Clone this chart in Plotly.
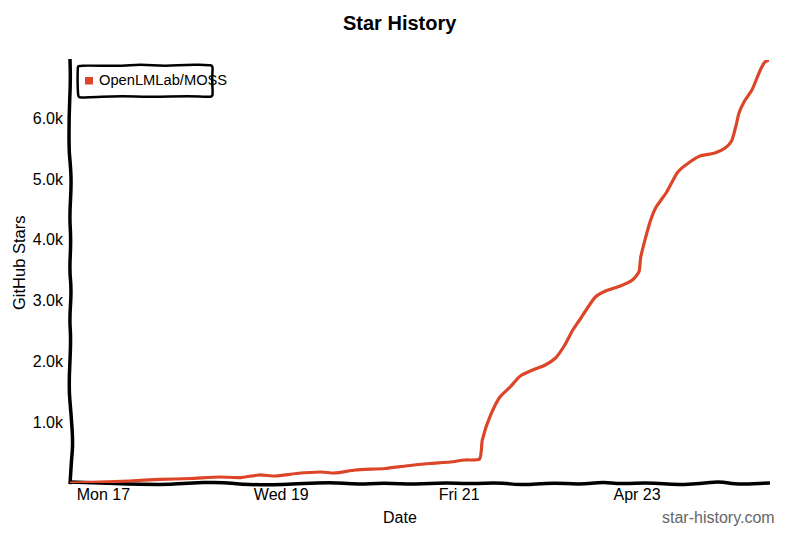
import plotly.graph_objects as go

W, H = 800, 533
LEFT, RIGHT, TOP, BOTTOM = 70, 769, 60, 483
RED = "#dd4528"

dates = [
    "2023-04-16 15:00", "2023-04-16 23:00", "2023-04-17 07:00", "2023-04-17 15:00",
    "2023-04-17 23:30", "2023-04-18 07:30", "2023-04-18 13:00", "2023-04-18 18:00",
    "2023-04-18 22:30", "2023-04-19 04:00", "2023-04-19 10:30", "2023-04-19 14:30",
    "2023-04-19 20:00", "2023-04-20 04:00", "2023-04-20 09:30", "2023-04-20 16:00",
    "2023-04-20 21:30", "2023-04-21 01:30", "2023-04-21 05:30", "2023-04-21 06:15",
    "2023-04-21 08:30", "2023-04-21 11:00", "2023-04-21 13:45", "2023-04-21 16:30",
    "2023-04-21 20:30", "2023-04-21 23:15", "2023-04-22 02:00", "2023-04-22 04:30",
    "2023-04-22 06:30", "2023-04-22 08:30", "2023-04-22 12:45", "2023-04-22 15:30",
    "2023-04-22 19:30", "2023-04-22 22:45", "2023-04-23 00:30", "2023-04-23 01:00",
    "2023-04-23 03:30", "2023-04-23 05:00", "2023-04-23 08:00", "2023-04-23 11:00",
    "2023-04-23 14:15", "2023-04-23 17:00", "2023-04-23 21:00", "2023-04-23 23:45",
    "2023-04-24 01:30", "2023-04-24 02:45", "2023-04-24 03:30", "2023-04-24 05:00",
    "2023-04-24 07:00", "2023-04-24 09:15", "2023-04-24 10:30", "2023-04-24 11:36",
]
stars = [
    0, 16, 33, 58, 74, 99, 90, 132, 115, 156, 181, 165, 214, 238, 280, 321, 345, 378,
    395, 711, 1119, 1415, 1579, 1760, 1875, 1941, 2056, 2270, 2500, 2681, 3060, 3158,
    3240, 3339, 3471, 3718, 4293, 4523, 4787, 5116, 5280, 5379, 5428, 5511, 5626, 5889,
    6086, 6284, 6465, 6794, 6925, 6958,
]

x_tick_vals = ["2023-04-17", "2023-04-19", "2023-04-21", "2023-04-23"]
x_tick_text = ["Mon 17", "Wed 19", "Fri 21", "Apr 23"]
y_tick_vals = [1000, 2000, 3000, 4000, 5000, 6000]
y_tick_text = ["1.0k", "2.0k", "3.0k", "4.0k", "5.0k", "6.0k"]

# hand drawn outlines, in pixels of the page
y_axis_line = [(70, 59), (70.5, 83), (69, 117), (69, 150), (70, 160), (71.5, 183), (69.5, 217),
               (71, 240), (69.5, 270), (71.5, 290), (69.5, 320), (71, 340), (68.7, 387),
               (71, 413), (73, 443), (71.5, 460), (70, 484)]
x_axis_line = [(70, 482), (160, 485), (187, 483.2), (220, 482), (243, 484.5), (277, 485),
               (330, 482), (357, 484.5), (383, 482.8), (417, 484.5), (443, 482.6), (470, 483.8),
               (500, 482.6), (520, 485.2), (553, 482.6), (580, 484.5), (603, 482), (620, 483.8),
               (650, 482.6), (677, 485), (700, 483.5), (720, 481.5), (737, 484.5), (770, 483)]
legend_box = [(81, 66), (84, 65.5), (120, 66), (140, 64.5), (165, 66), (190, 64.5), (209, 65),
              (212, 65.5), (212.8, 68), (212, 78), (212.8, 94), (212, 96.5), (209, 97), (190, 96),
              (150, 97), (120, 96), (83, 97.5), (79, 97.5), (78, 95), (77.5, 80), (77.8, 68),
              (78, 66), (81, 66)]


def px(x):
    return (x - LEFT) / (RIGHT - LEFT)


def py(y):
    return 1 - (y - TOP) / (BOTTOM - TOP)


def sketch_shape(points, width):
    # smooth pixel outline -> svg path in paper coordinates
    pts = [(px(x), py(y)) for x, y in points]
    path = f"M{pts[0][0]:.4f},{pts[0][1]:.4f}"
    for (x0, y0), (x1, y1) in zip(pts, pts[1:]):
        path += f" Q{x0:.4f},{y0:.4f} {(x0 + x1) / 2:.4f},{(y0 + y1) / 2:.4f}"
    path += f" L{pts[-1][0]:.4f},{pts[-1][1]:.4f}"
    return dict(type="path", xref="paper", yref="paper", path=path,
                line=dict(color="#000000", width=width), layer="below")


def label(text, x, y, size, xanchor="center", color="#000000", angle=0):
    return dict(text=text, xref="paper", yref="paper", x=px(x), y=py(y), xanchor=xanchor,
                yanchor="middle", showarrow=False, textangle=angle,
                font=dict(size=size, color=color))


fig = go.Figure()
fig.add_trace(go.Scatter(
    x=dates, y=stars, mode="lines", showlegend=False,
    line=dict(color=RED, width=3.2, shape="spline", smoothing=0.6),
    cliponaxis=False,
))

fig.update_layout(
    width=W, height=H,
    margin=dict(l=LEFT, r=W - RIGHT, t=TOP, b=H - BOTTOM),
    paper_bgcolor="white", plot_bgcolor="rgba(0,0,0,0)",
    font=dict(family="Liberation Sans, Arial, sans-serif", size=16, color="#000000"),
    showlegend=False,
    xaxis=dict(range=["2023-04-16 15:00", "2023-04-24 11:36"], tickvals=x_tick_vals,
               ticktext=x_tick_text, showgrid=False, zeroline=False, showline=False, ticks=""),
    yaxis=dict(range=[0, 6958], tickvals=y_tick_vals, ticktext=y_tick_text, ticklabelstandoff=6,
               showgrid=False, zeroline=False, showline=False, ticks=""),
    shapes=[
        sketch_shape(y_axis_line, 3.5),
        sketch_shape(x_axis_line, 3.5),
        sketch_shape(legend_box, 2.5),
        dict(type="rect", xref="paper", yref="paper", x0=px(85), x1=px(93), y0=py(84.5), y1=py(77),
             fillcolor=RED, line=dict(color=RED, width=0)),
    ],
    annotations=[
        label("<b>Star History</b>", 400, 23, 20),
        label("OpenLMLab/MOSS", 97, 80, 14.7, xanchor="left"),
        label("Date", 400, 517, 16),
        label("GitHub Stars", 18.5, 263.5, 16.5, angle=-90),
        label("star-history.com", 777, 517, 16, xanchor="right", color="#666666"),
    ],
)

# the page's default body margin would push the figure off by 8px
fig.write_html("out.html", config={"displayModeBar": False},
               post_script="document.body.style.margin = '0';")
